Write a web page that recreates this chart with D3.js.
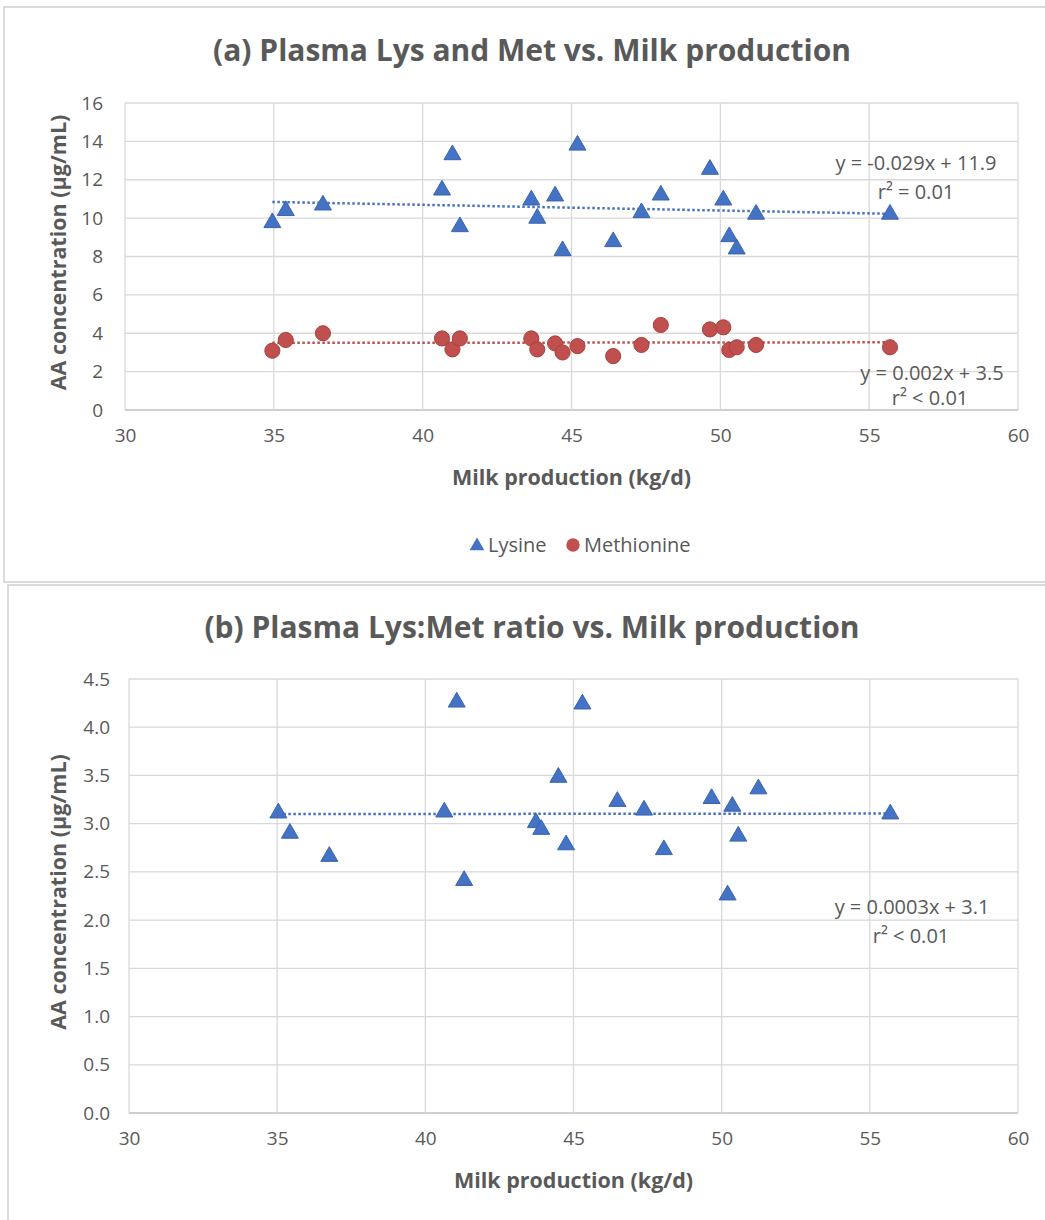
<!DOCTYPE html>
<html>
<head>
<meta charset="utf-8">
<script src="https://cdn.jsdelivr.net/npm/d3@7"></script>
<style>
  body { margin: 0; background: #fff; }
  svg text { font-family: "Open Sans", sans-serif; fill: #595959; }
</style>
</head>
<body>
<div id="chart"></div>
<script>
// cows, panel (a)
var milkA = [34.95, 35.4, 36.65, 40.65, 41.0, 41.25, 43.65, 43.85, 44.45, 44.7, 45.2, 46.4, 47.35, 48.0, 49.65, 50.1, 50.3, 50.55, 51.2, 55.7]
var lysine = [9.76, 10.39, 10.68, 11.46, 13.3, 9.55, 10.94, 9.99, 11.15, 8.3, 13.8, 8.77, 10.28, 11.2, 12.54, 10.94, 9.03, 8.39, 10.2, 10.2]
var methionine = [3.09, 3.65, 4.0, 3.73, 3.16, 3.73, 3.73, 3.16, 3.47, 3.0, 3.33, 2.81, 3.39, 4.43, 4.2, 4.31, 3.13, 3.27, 3.39, 3.27]
// panel (b)
var milkB = [35.04, 35.43, 36.76, 40.64, 41.06, 41.31, 43.73, 43.91, 44.49, 44.75, 45.3, 46.48, 47.38, 48.05, 49.66, 50.2, 50.36, 50.56, 51.24, 55.69]
var ratio = [3.11, 2.90, 2.66, 3.12, 4.26, 2.41, 3.01, 2.94, 3.48, 2.78, 4.24, 3.23, 3.14, 2.73, 3.26, 2.26, 3.18, 2.87, 3.36, 3.10]

var xTicks = [30, 35, 40, 45, 50, 55, 60]
var yTicksA = [0, 2, 4, 6, 8, 10, 12, 14, 16]
var yTicksB = [0, 0.5, 1, 1.5, 2, 2.5, 3, 3.5, 4, 4.5]

var blue = '#4472C4', red = '#C0504D', grid = '#d9d9d9', txt = '#595959'

var svg = d3.select('#chart').append('svg').attr('width', 1045).attr('height', 1220)

// chart frames
svg.append('rect').attr('x', 4).attr('y', 7).attr('width', 1080).attr('height', 575)
  .attr('fill', 'none').attr('stroke', '#d0d0d0').attr('stroke-width', 1.5)
svg.append('rect').attr('x', 8).attr('y', 585).attr('width', 1080).attr('height', 700)
  .attr('fill', 'none').attr('stroke', '#d0d0d0').attr('stroke-width', 1.5)

// least squares fit
function fit(xs, ys) {
  var mx = d3.mean(xs), my = d3.mean(ys)
  var sxy = d3.sum(xs, function (x, i) { return (x - mx) * (ys[i] - my) })
  var sxx = d3.sum(xs, function (x) { return (x - mx) * (x - mx) })
  var b = sxy / sxx
  return { b: b, a: my - b * mx }
}

function panel(cfg) {
  var x = d3.scaleLinear().domain([30, 60]).range(cfg.xr)
  var y = d3.scaleLinear().domain(cfg.yd).range(cfg.yr)
  var g = svg.append('g')

  // gridlines
  g.selectAll('.hg').data(cfg.yTicks).enter().append('line')
    .attr('x1', cfg.xr[0]).attr('x2', cfg.xr[1])
    .attr('y1', function (d) { return y(d) }).attr('y2', function (d) { return y(d) })
    .attr('stroke', function (d) { return d === 0 ? '#bfbfbf' : grid }).attr('stroke-width', 1.3)
  g.selectAll('.vg').data(xTicks).enter().append('line')
    .attr('y1', cfg.yr[0]).attr('y2', cfg.yr[1])
    .attr('x1', function (d) { return x(d) }).attr('x2', function (d) { return x(d) })
    .attr('stroke', grid).attr('stroke-width', 1.3)

  // axes (labels only)
  var yAxis = d3.axisLeft(y).tickValues(cfg.yTicks).tickSize(0).tickPadding(cfg.yPad).tickFormat(cfg.yFmt)
  var ya = g.append('g').attr('transform', 'translate(' + cfg.xr[0] + ',0)').call(yAxis)
  var xAxis = d3.axisBottom(x).tickValues(xTicks).tickSize(0).tickPadding(19)
  var xa = g.append('g').attr('transform', 'translate(0,' + cfg.yr[0] + ')').call(xAxis)
  ;[ya, xa].forEach(function (a) {
    a.select('.domain').remove()
    a.selectAll('text').attr('font-size', 19).attr('fill', txt)
      .style('font-family', '"Open Sans", sans-serif')
  })

  // titles
  g.append('text').attr('x', 532).attr('y', cfg.titleY).attr('text-anchor', 'middle')
    .attr('font-size', 30).attr('font-weight', 'bold').text(cfg.title)
  g.append('text').attr('x', (cfg.xr[0] + cfg.xr[1]) / 2).attr('y', cfg.yr[0] + 75).attr('text-anchor', 'middle')
    .attr('font-size', 21.5).attr('font-weight', 'bold').text('Milk production (kg/d)')
  var ymid = (cfg.yr[0] + cfg.yr[1]) / 2 - 4
  g.append('text').attr('transform', 'translate(66,' + ymid + ') rotate(-90)').attr('text-anchor', 'middle')
    .attr('font-size', 21.5).attr('font-weight', 'bold').text('AA concentration (μg/mL)')

  // series
  cfg.series.forEach(function (s) {
    var f = fit(s.xs, s.ys)
    var x0 = d3.min(s.xs), x1 = d3.max(s.xs)
    g.append('line')
      .attr('x1', x(x0)).attr('y1', y(f.a + f.b * x0))
      .attr('x2', x(x1)).attr('y2', y(f.a + f.b * x1))
      .attr('stroke', s.color).attr('stroke-width', 2.5).attr('stroke-dasharray', '2.5,2.5')
    var sym = d3.symbol().type(s.shape).size(s.size)
    g.selectAll(null).data(s.xs).enter().append('path')
      .attr('d', sym)
      .attr('transform', function (d, i) { return 'translate(' + x(d) + ',' + y(s.ys[i]) + ')' })
      .attr('fill', s.color).attr('stroke', s.stroke).attr('stroke-width', 1)
  })

  // equations
  cfg.notes.forEach(function (n) {
    g.append('text').attr('x', n.x).attr('y', n.y).attr('text-anchor', 'middle')
      .attr('font-size', 20).attr('fill', '#6a6a6a').text(n.t)
  })
}

panel({
  title: '(a) Plasma Lys and Met vs. Milk production',
  titleY: 61,
  xr: [125, 1018], yd: [0, 16], yr: [410, 103],
  yTicks: yTicksA, yPad: 22, yFmt: d3.format('d'),
  series: [
    { xs: milkA, ys: lysine, color: blue, stroke: '#3a64ad', shape: d3.symbolTriangle, size: 125 },
    { xs: milkA, ys: methionine, color: red, stroke: '#a8403d', shape: d3.symbolCircle, size: 180 }
  ],
  notes: [
    { x: 916, y: 170, t: 'y = -0.029x + 11.9' },
    { x: 916, y: 199, t: 'r² = 0.01' },
    { x: 932, y: 380, t: 'y = 0.002x + 3.5' },
    { x: 930, y: 405, t: 'r² < 0.01' }
  ]
})

panel({
  title: '(b) Plasma Lys:Met ratio vs. Milk production',
  titleY: 638,
  xr: [129, 1018], yd: [0, 4.5], yr: [1113, 679],
  yTicks: yTicksB, yPad: 19, yFmt: d3.format('.1f'),
  series: [
    { xs: milkB, ys: ratio, color: blue, stroke: '#3a64ad', shape: d3.symbolTriangle, size: 125 }
  ],
  notes: [
    { x: 912, y: 914, t: 'y = 0.0003x + 3.1' },
    { x: 911, y: 943, t: 'r² <  0.01' }
  ]
})

// legend for panel (a)
var leg = svg.append('g').attr('transform', 'translate(0,545)')
leg.append('path').attr('d', d3.symbol().type(d3.symbolTriangle).size(95)).attr('transform', 'translate(477,1)').attr('fill', blue)
leg.append('text').attr('x', 488).attr('y', 7).attr('font-size', 20).text('Lysine')
leg.append('path').attr('d', d3.symbol().type(d3.symbolCircle).size(140)).attr('transform', 'translate(573,0)').attr('fill', red)
leg.append('text').attr('x', 584).attr('y', 7).attr('font-size', 20).text('Methionine')
</script>
</body>
</html>
